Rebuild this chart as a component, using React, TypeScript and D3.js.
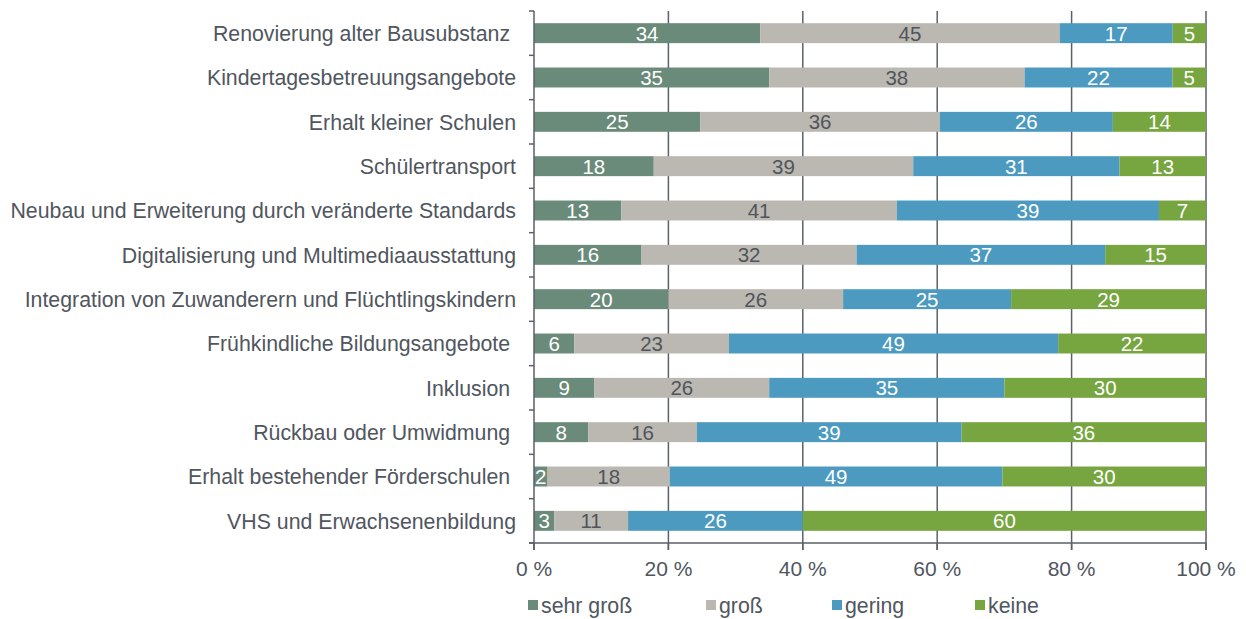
import React, { useRef, useEffect } from "react";
import * as d3 from "d3";

const categories = [
  "Renovierung alter Bausubstanz ",
  "Kindertagesbetreuungsangebote",
  "Erhalt kleiner Schulen",
  "Schülertransport",
  "Neubau und Erweiterung durch veränderte Standards",
  "Digitalisierung und Multimediaausstattung",
  "Integration von Zuwanderern und Flüchtlingskindern",
  "Frühkindliche Bildungsangebote ",
  "Inklusion ",
  "Rückbau oder Umwidmung ",
  "Erhalt bestehender Förderschulen ",
  "VHS und Erwachsenenbildung",
];

const seriesNames = ["sehr groß", "groß", "gering", "keine"];
const sehrGross = [34, 35, 25, 18, 13, 16, 20, 6, 9, 8, 2, 3];
const gross = [45, 38, 36, 39, 41, 32, 26, 23, 26, 16, 18, 11];
const gering = [17, 22, 26, 31, 39, 37, 25, 49, 35, 39, 49, 26];
const keine = [5, 5, 14, 13, 7, 15, 29, 22, 30, 36, 30, 60];
const xTicks = [0, 0.2, 0.4, 0.6, 0.8, 1];

const colors = ["#6a8a7a", "#bbb8b1", "#4d9ac0", "#77a540"];
const labelColors = ["#ffffff", "#4f555c", "#ffffff", "#ffffff"];
const textColor = "#50565e";
const font = "'Liberation Sans', Arial, sans-serif";

const W = 1246;
const H = 619;

const App: React.FC = () => {
  const ref = useRef<SVGSVGElement | null>(null);

  useEffect(() => {
    if (!ref.current) return;
    const svg = d3.select(ref.current);
    svg.selectAll("*").remove();

    const margin = { top: 11, right: 40, bottom: 76, left: 534 };
    const x0 = margin.left;
    const x1 = W - margin.right;
    const y0 = margin.top;
    const y1 = H - margin.bottom;

    const rows = categories.map((c, i) => ({
      cat: c,
      "sehr groß": sehrGross[i],
      "groß": gross[i],
      gering: gering[i],
      keine: keine[i],
    }));

    const stack = d3
      .stack<any>()
      .keys(seriesNames)
      .offset(d3.stackOffsetExpand);
    const layers = stack(rows);

    const x = d3.scaleLinear().domain([0, 1]).range([x0, x1]);
    const y = d3
      .scaleBand()
      .domain(categories)
      .range([y0, y1])
      .paddingInner(0.55)
      .paddingOuter(0.275);

    // gridlines
    svg
      .append("g")
      .selectAll("line")
      .data(xTicks.slice(1))
      .enter()
      .append("line")
      .attr("x1", d => x(d))
      .attr("x2", d => x(d))
      .attr("y1", y0)
      .attr("y2", y1 + 7)
      .attr("stroke", "#5b6168")
      .attr("stroke-width", 1.5);

    // bars
    layers.forEach((layer, li) => {
      const g = svg.append("g");
      g.selectAll("rect")
        .data(layer)
        .enter()
        .append("rect")
        .attr("x", d => x(d[0]))
        .attr("y", d => y(d.data.cat)!)
        .attr("width", d => x(d[1]) - x(d[0]))
        .attr("height", y.bandwidth())
        .attr("fill", colors[li]);

      g.selectAll("text")
        .data(layer)
        .enter()
        .append("text")
        .attr("x", d => (x(d[0]) + x(d[1])) / 2)
        .attr("y", d => y(d.data.cat)! + y.bandwidth() / 2)
        .attr("dy", "0.36em")
        .attr("text-anchor", "middle")
        .attr("font-family", font)
        .attr("font-size", 20.5)
        .attr("fill", labelColors[li])
        .text(d => d.data[seriesNames[li]]);
    });

    // y axis
    const step = y.step();
    const yAxis = svg.append("g");
    yAxis
      .append("line")
      .attr("x1", x0)
      .attr("x2", x0)
      .attr("y1", y0)
      .attr("y2", y1 + 7)
      .attr("stroke", "#5b6168")
      .attr("stroke-width", 1.5);
    yAxis
      .selectAll("line.tick")
      .data(d3.range(categories.length + 1))
      .enter()
      .append("line")
      .attr("class", "tick")
      .attr("x1", x0 - 5)
      .attr("x2", x0)
      .attr("y1", i => y0 + i * step)
      .attr("y2", i => y0 + i * step)
      .attr("stroke", "#5b6168")
      .attr("stroke-width", 1.5);
    yAxis
      .selectAll("text")
      .data(categories)
      .enter()
      .append("text")
      .attr("x", x0 - 18)
      .attr("y", d => y(d)! + y.bandwidth() / 2)
      .attr("dy", "0.36em")
      .attr("text-anchor", "end")
      .attr("font-family", font)
      .attr("font-size", 21.3)
      .attr("fill", textColor)
      .style("white-space", "pre")
      .text(d => d);

    // x axis
    const xAxis = svg.append("g");
    xAxis
      .append("line")
      .attr("x1", x0 - 5)
      .attr("x2", x1)
      .attr("y1", y1)
      .attr("y2", y1)
      .attr("stroke", "#5b6168")
      .attr("stroke-width", 1.5);
    xAxis
      .selectAll("line.tick")
      .data(xTicks)
      .enter()
      .append("line")
      .attr("class", "tick")
      .attr("x1", d => x(d))
      .attr("x2", d => x(d))
      .attr("y1", y1)
      .attr("y2", y1 + 7)
      .attr("stroke", "#5b6168")
      .attr("stroke-width", 1.5);
    xAxis
      .selectAll("text")
      .data(xTicks)
      .enter()
      .append("text")
      .attr("x", d => x(d))
      .attr("y", y1 + 25)
      .attr("dy", "0.36em")
      .attr("text-anchor", "middle")
      .attr("font-family", font)
      .attr("font-size", 21)
      .attr("fill", textColor)
      .text(d => `${Math.round(d * 100)} %`);

    // legend
    const legendX = [528, 706, 832, 975];
    const legend = svg
      .append("g")
      .selectAll("g")
      .data(seriesNames)
      .enter()
      .append("g")
      .attr("transform", (_, i) => `translate(${legendX[i]},605)`);
    legend
      .append("rect")
      .attr("x", 0)
      .attr("y", -5)
      .attr("width", 10)
      .attr("height", 10)
      .attr("fill", (_, i) => colors[i]);
    legend
      .append("text")
      .attr("x", 13)
      .attr("y", 0)
      .attr("dy", "0.36em")
      .attr("font-family", font)
      .attr("font-size", 21.3)
      .attr("fill", textColor)
      .text(d => d);
  }, []);

  return (
    <svg
      ref={ref}
      width={W}
      height={H}
      style={{ position: "absolute", left: 0, top: 0, background: "#fff" }}
    />
  );
};

export default App;
